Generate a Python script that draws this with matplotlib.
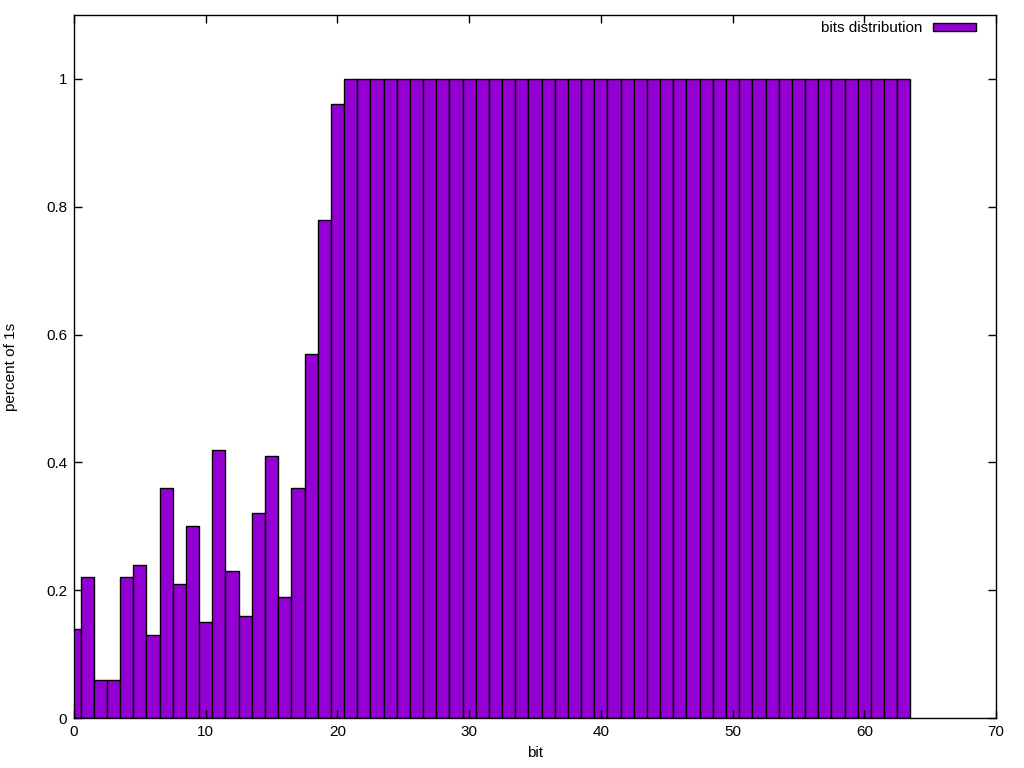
import numpy as np
import matplotlib.pyplot as plt

plt.rcParams['font.family'] = ['Liberation Sans', 'DejaVu Sans']

# share of 1s for each bit position
bits = np.arange(64)
pct_low = [0.14, 0.22, 0.06, 0.06, 0.22, 0.24, 0.13, 0.36, 0.21, 0.30,
           0.15, 0.42, 0.23, 0.16, 0.32, 0.41, 0.19, 0.36, 0.57, 0.78, 0.96]
pct_high = [1.0] * (64 - len(pct_low))
percent = pct_low + pct_high

fig = plt.figure(figsize=(10.24, 7.68), dpi=100)
ax = fig.add_axes([74/1024, 1-718/768, (996-74)/1024, (718-15)/768])

ax.bar(bits, percent, width=1.0, color='#9400d3', edgecolor='black',
       linewidth=1.0, label='bits distribution')

ax.set_xlim(0, 70)
ax.set_ylim(0, 1.1)
ax.set_xticks(np.arange(0, 71, 10))
ax.set_yticks([0, 0.2, 0.4, 0.6, 0.8, 1.0])
ax.set_yticklabels(['0', '0.2', '0.4', '0.6', '0.8', '1'])
ax.tick_params(direction='in', top=True, right=True, length=6, width=1,
               labelsize=11, pad=5)
for s in ax.spines.values():
    s.set_linewidth(1)

ax.set_xlabel('bit', fontsize=11, labelpad=5)
ax.set_ylabel('percent of 1s', fontsize=11, labelpad=20)

ax.legend(loc='upper right', frameon=False, markerfirst=False,
          fontsize=11, handlelength=2.8, handleheight=0.4,
          handletextpad=0.7, borderaxespad=0.0,
          bbox_to_anchor=(0.985, 1.0))

fig.savefig('out.png', dpi=100)
